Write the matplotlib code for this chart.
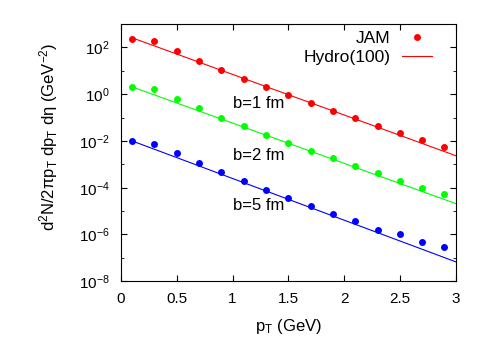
import matplotlib
matplotlib.use('Agg')
import matplotlib.pyplot as plt
import numpy as np

plt.rcParams['font.family'] = 'Liberation Sans'
plt.rcParams['mathtext.fontset'] = 'custom'
plt.rcParams['mathtext.rm'] = 'Liberation Sans'
plt.rcParams['mathtext.it'] = 'Liberation Sans:italic'
plt.rcParams['mathtext.default'] = 'regular'

# JAM points (pT in GeV)
pt_jam = [0.1, 0.3, 0.5, 0.7, 0.9, 1.1, 1.3, 1.5, 1.7, 1.9, 2.1, 2.3, 2.5, 2.7, 2.9]
jam_b1 = [2.3e2, 1.8e2, 7.2e1, 2.7e1, 1.08e1, 4.6, 2.0, 9.1e-1, 4.1e-1, 1.9e-1, 9.5e-2, 4.2e-2, 2.25e-2, 1.13e-2, 5.4e-3]
jam_b2 = [2.05, 1.63, 6.3e-1, 2.44e-1, 9.8e-2, 4.2e-2, 1.85e-2, 7.9e-3, 3.6e-3, 1.82e-3, 8.3e-4, 4.1e-4, 1.86e-4, 1.02e-4, 5.2e-5]
jam_b5 = [1.0e-2, 7.7e-3, 2.95e-3, 1.15e-3, 4.5e-4, 1.86e-4, 7.9e-5, 3.6e-5, 1.58e-5, 7.2e-6, 3.8e-6, 1.62e-6, 1.0e-6, 4.7e-7, 2.8e-7]

# Hydro(100) curves
pt_hydro = [0.1, 0.5, 1.0, 1.5, 2.0, 2.5, 3.0]
hydro_b1 = [2.57e2, 5.2e1, 7.0, 9.5e-1, 1.29e-1, 1.74e-2, 2.35e-3]
hydro_b2 = [2.04, 4.2e-1, 5.8e-2, 8.0e-3, 1.1e-3, 1.52e-4, 2.1e-5]
hydro_b5 = [1.0e-2, 1.94e-3, 2.48e-4, 3.2e-5, 4.1e-6, 5.3e-7, 6.8e-8]

colours = ['#ff0000', '#00ff00', '#0000ff']
labels = ['b=1 fm', 'b=2 fm', 'b=5 fm']
label_y = [4.1e-1, 2.45e-3, 1.8e-5]

fig = plt.figure(figsize=(4.91, 3.43), dpi=100)
ax = fig.add_axes([0.2464, 0.18, 0.6816, 0.75])

for jam, hyd, c in zip([jam_b1, jam_b2, jam_b5], [hydro_b1, hydro_b2, hydro_b5], colours):
    ax.plot(pt_hydro, hyd, '-', color=c, lw=0.8)
    ax.plot(pt_jam, jam, 'o', color=c, ms=5.0, mec='none')

for lab, yy in zip(labels, label_y):
    ax.text(1.0, yy, lab, fontsize=12, va='center', ha='left')

ax.set_yscale('log')
ax.set_xlim(0, 3)
ax.set_ylim(1e-8, 1e3)
ax.set_xticks([0, 0.5, 1, 1.5, 2, 2.5, 3])
ax.set_xticklabels(['0', '0.5', '1', '1.5', '2', '2.5', '3'])
ax.set_yticks([1e-8, 1e-6, 1e-4, 1e-2, 1e0, 1e2])
ax.set_yticklabels(['$10^{-8}$', '$10^{-6}$', '$10^{-4}$', '$10^{-2}$', '$10^{0}$', '$10^{2}$'])
ax.set_yticks([1e-7, 1e-5, 1e-3, 1e-1, 1e1], minor=True)
ax.yaxis.set_minor_formatter(plt.NullFormatter())
ax.tick_params(which='both', direction='in', top=True, right=True, labelsize=11, pad=8)
ax.tick_params(which='major', length=4)
ax.tick_params(which='minor', length=2.5)
for s in ax.spines.values():
    s.set_linewidth(0.8)

ax.set_xlabel('p$_T$ (GeV)', fontsize=12)
ax.set_ylabel('d$^2$N/2πp$_T$ dp$_T$ dη (GeV$^{-2}$)', fontsize=12)
ax.xaxis.set_label_coords(0.5, -0.14)
ax.yaxis.set_label_coords(-0.182, 0.56)

h1, = ax.plot([], [], 'o', color='#ff0000', ms=5.0, mec='none')
h2, = ax.plot([], [], '-', color='#ff0000', lw=0.8)
ax.legend([h1, h2], ['JAM', 'Hydro(100)'], loc='upper right', bbox_to_anchor=(0.95, 1.0),
          frameon=False, markerfirst=False, fontsize=12.5, handlelength=1.7,
          handletextpad=0.7, borderaxespad=0, labelspacing=0.2)

fig.savefig('out.png', dpi=100)
